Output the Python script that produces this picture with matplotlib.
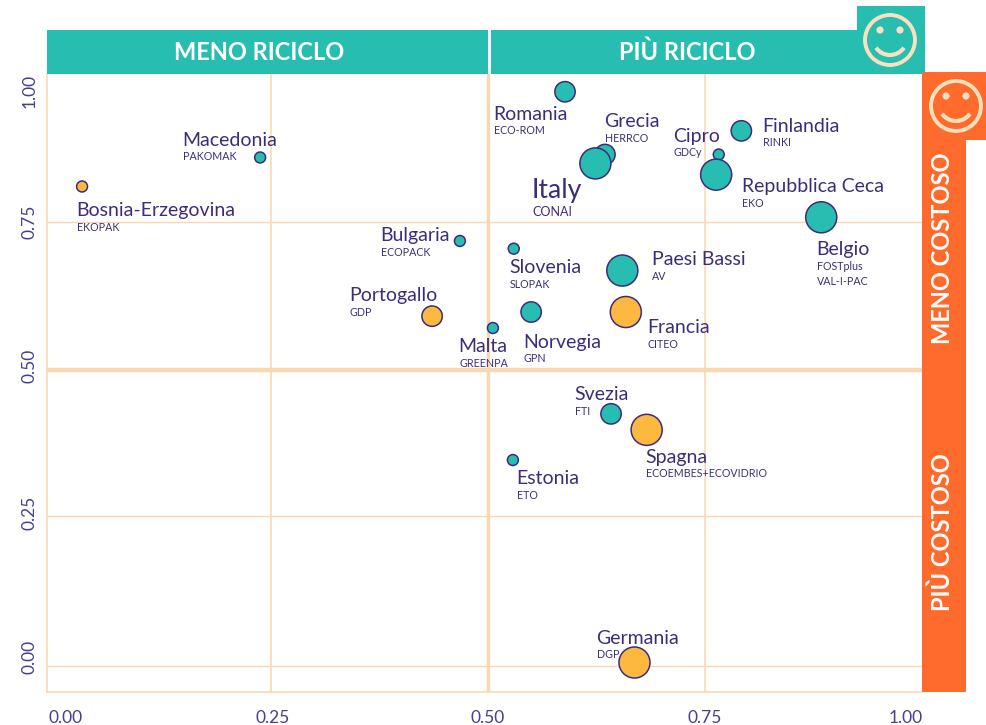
import matplotlib
matplotlib.use("Agg")
import matplotlib.pyplot as plt
from matplotlib.patches import Rectangle, Circle, Arc
from matplotlib.transforms import ScaledTranslation

W, H = 986, 725
TEAL = "#27BDB0"; AMBER = "#FDB93F"; ORANGE = "#FF6B2C"; CREAM = "#FAD7AE"; SMILE = "#FBE0BE"; INK = "#3D2C7C"; TICK = "#45408F"
plt.rcParams["font.family"] = ["Lato", "DejaVu Sans"]

names = ["Romania","Grecia","Italy","Macedonia","Bosnia-Erzegovina","Cipro","Finlandia","Repubblica Ceca","Belgio","Bulgaria",
         "Slovenia","Paesi Bassi","Portogallo","Francia","Norvegia","Malta","Svezia","Spagna","Estonia","Germania"]
systems = ["ECO-ROM","HERRCO","CONAI","PAKOMAK","EKOPAK","GDCy","RINKI","EKO","FOSTplus\nVAL-I-PAC","ECOPACK",
           "SLOPAK","AV","GDP","CITEO","GPN","GREENPA","FTI","ECOEMBES+ECOVIDRIO","ETO","DGP"]
recycling = [.589,.635,.624,.238,.033,.766,.792,.763,.884,.468,.530,.655,.436,.659,.550,.506,.642,.683,.529,.669]
cost = [.970,.864,.849,.859,.810,.864,.904,.830,.758,.718,.705,.668,.591,.598,.598,.571,.426,.399,.348,.006]
size_class = [2,2,3,1,1,1,2,3,3,1,1,3,2,3,2,1,2,3,1,3]
is_amber = [0,0,0,0,1,0,0,0,0,0,0,0,1,1,0,0,0,1,0,1]
ticks = [0, .25, .5, .75, 1]
tick_labels = ["0.00", "0.25", "0.50", "0.75", "1.00"]
grid_x = [.25, .75]
grid_y = [0, .2534, .75]
size_scale = {1: 62, 2: 215, 3: 500}

fig = plt.figure(figsize=(W/100, H/100), dpi=100)
L, R, T, B = 47, 922, 74, 692
ax = fig.add_axes([L/W, 1-B/H, (R-L)/W, (B-T)/H])
ax.set_xlim((L-53.4)/869, (R-53.4)/869)
ax.set_ylim((666-B)/594, (666-T)/594)
for s in ("top", "right"):
    ax.spines[s].set_visible(False)
for s in ("left", "bottom"):
    ax.spines[s].set_color(CREAM); ax.spines[s].set_linewidth(1.1)
for v in grid_x:
    ax.axvline(v, color=CREAM, lw=1.1, zorder=1)
for v in grid_y:
    ax.axhline(v, color=CREAM, lw=1.0, zorder=1)
ax.axvline(.5, color=CREAM, lw=2.4, zorder=1)
ax.axhline(.5, color=CREAM, lw=3.2, zorder=1)
ax.set_xticks(ticks); ax.set_yticks(ticks)
ax.tick_params(length=0, colors=TICK, labelsize=12.5)
ax.set_xticklabels(tick_labels)
ax.set_yticklabels(tick_labels, rotation=90, va="center")
ax.tick_params(axis="x", pad=13)
ax.tick_params(axis="y", pad=7)
def shift(lab, dx, dy):
    lab.set_transform(lab.get_transform() + ScaledTranslation(dx*.72/72, dy*.72/72, fig.dpi_scale_trans))
xl = ax.get_xticklabels()
for lab, dx in zip(xl, (12, 2, 0, 0, -16)):
    shift(lab, dx, 0)
yl = ax.get_yticklabels()
for lab, dy in zip(yl, (9, 5, 4, 0, -17)):
    shift(lab, 0, dy)
ax.scatter(recycling, cost, s=[size_scale[c] for c in size_class],
           c=[AMBER if a else TEAL for a in is_amber], edgecolors=INK, linewidths=1.1, zorder=3, clip_on=False)

ov = fig.add_axes([0, 0, 1, 1], facecolor="none")
ov.set_xlim(0, W); ov.set_ylim(H, 0); ov.axis("off")
def rect(x0, y0, x1, y1, c):
    ov.add_patch(Rectangle((x0, y0), x1-x0, y1-y0, fc=c, ec="none"))
rect(47, 30, 488, 74, TEAL); rect(491, 30, 925, 74, TEAL); rect(857, 6, 925, 74, TEAL)
rect(922, 72, 966, 692, ORANGE); rect(922, 72, 986, 140, ORANGE)
def smiley(cx, cy):
    ov.add_patch(Circle((cx, cy), 25, fc="none", ec=SMILE, lw=2.8))
    for dx in (-10, 10):
        ov.add_patch(Circle((cx+dx, cy-10), 3.6, fc=SMILE, ec="none"))
    ov.add_patch(Arc((cx, cy-2), 34, 34, theta1=35, theta2=145, ec=SMILE, lw=3))
smiley(890, 40); smiley(956, 106)
hdr = dict(color="white", fontweight="bold", fontsize=17, ha="center", va="center")
ov.text(259, 52, "MENO RICICLO", **hdr); ov.text(687, 52, "PIÙ RICICLO", **hdr)
ov.text(942, 248, "MENO COSTOSO", rotation=90, **hdr); ov.text(942, 532, "PIÙ COSTOSO", rotation=90, **hdr)

name_pos = [(494,113),(605,120),(532,189),(183,139),(77,209),(674,135),(763,125),(742,185),(817,248),(381,234),
            (510,266),(652,258),(350,294),(648,326),(524,341),(459,345),(575,393),(646,456),(517,477),(597,637)]
sub_pos = [(494,130),(605,138),(532,212),(183,156),(77,227),(674,152),(763,142),(742,203),(817,274),(381,252),
           (510,284),(652,276),(350,312),(648,344),(524,358),(459,363),(575,411),(646,473),(517,495),(597,654)]
for n, s, (nx, ny), (sx, sy) in zip(names, systems, name_pos, sub_pos):
    big = n == "Italy"
    ov.text(nx-0.5, ny+1, n, color=INK, fontsize=19.2 if big else 14, va="center", ha="left")
    ov.text(sx, sy, s, color=INK, fontsize=9 if big else 7.7, va="center", ha="left", linespacing=1.5)

fig.savefig("out.png", dpi=100, facecolor="white")
